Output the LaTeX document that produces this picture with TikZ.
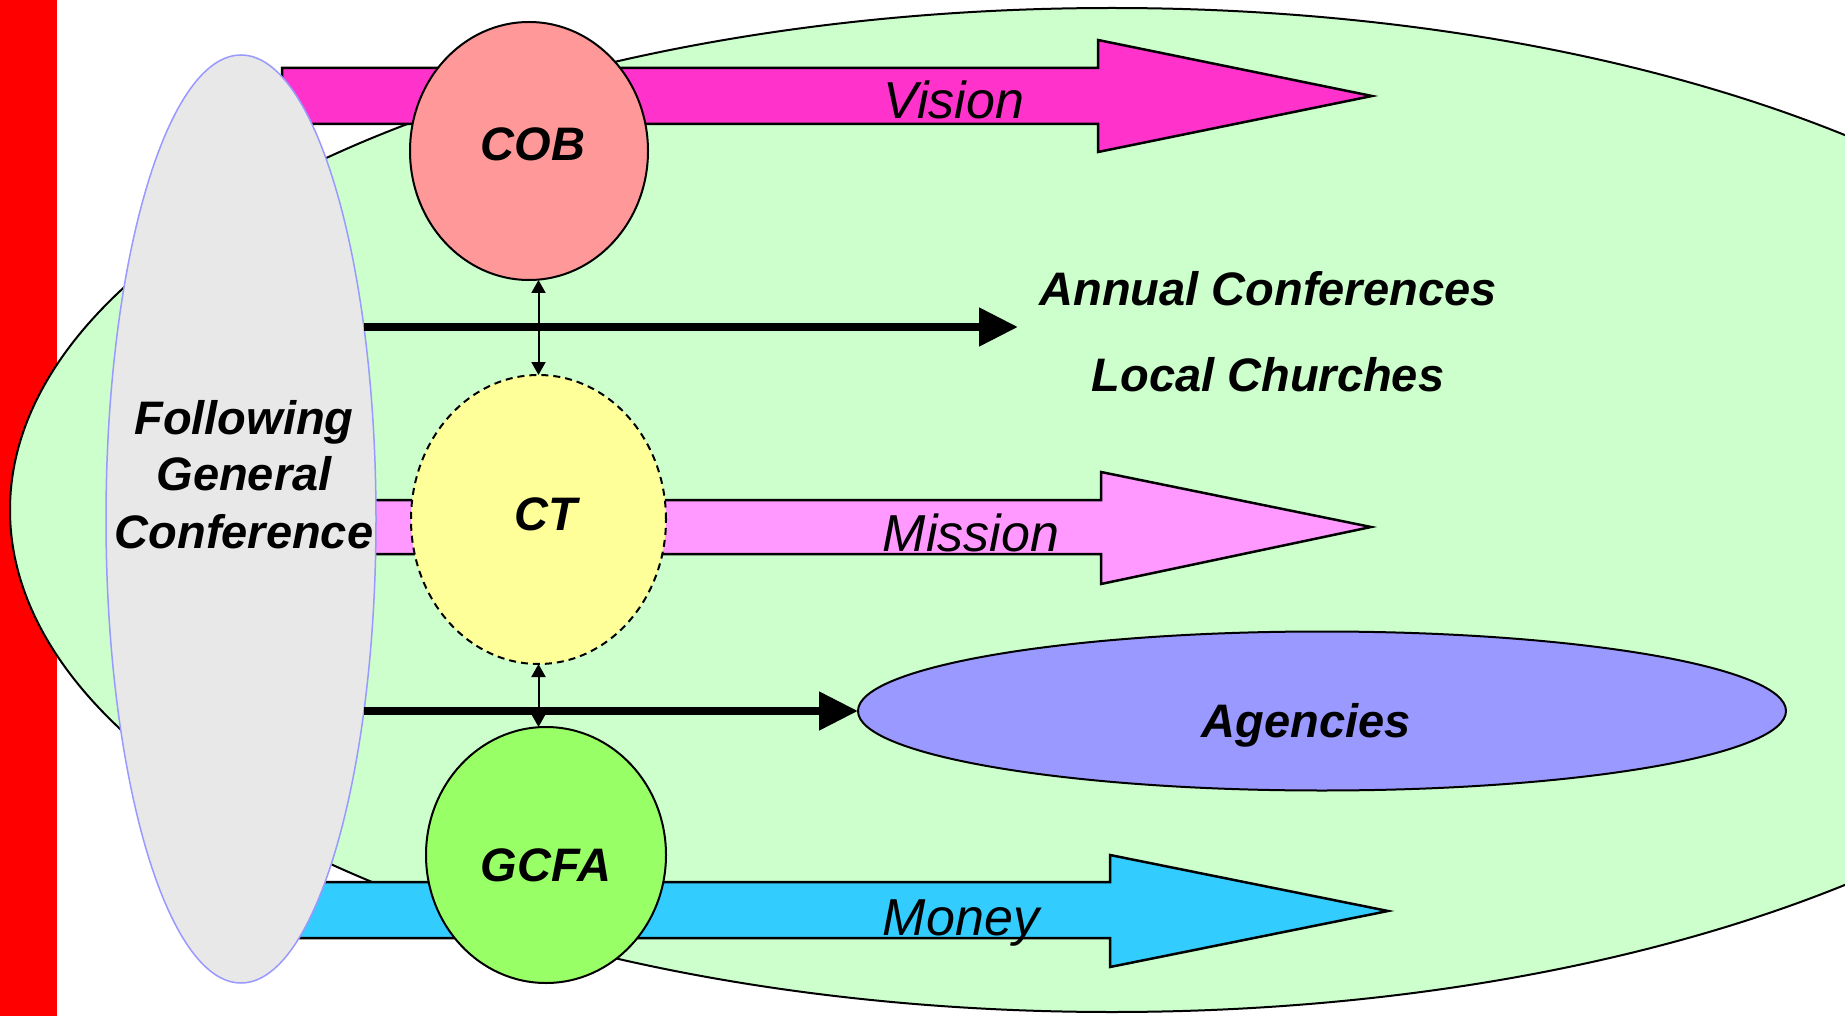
\documentclass[tikz,border=0pt]{standalone}
\usepackage{fontspec}
\setmainfont{Liberation Sans}
\usetikzlibrary{shapes.geometric,arrows.meta}
\definecolor{bgGreen}{HTML}{CCFFCC}
\definecolor{visCol}{HTML}{FF33CC}
\definecolor{misCol}{HTML}{FF99FF}
\definecolor{monCol}{HTML}{33CCFF}
\definecolor{cobCol}{HTML}{FF9999}
\definecolor{ctCol}{HTML}{FFFF99}
\definecolor{gcfaCol}{HTML}{99FF66}
\definecolor{agCol}{HTML}{9999FF}
\definecolor{fgcCol}{HTML}{E8E8E8}
\definecolor{fgcLine}{HTML}{9999FF}
\begin{document}
\begin{tikzpicture}[x=1pt,y=-1pt,
  blob/.style={ellipse, inner sep=0pt, outer sep=0pt, draw=black, line width=2pt},
  boldlbl/.style={font=\fontsize{47}{57}\selectfont\bfseries\itshape, inner sep=0pt, anchor=base},
  itlbl/.style={font=\fontsize{52}{62}\selectfont\itshape, inner sep=0pt, anchor=base},
  blockarrow/.style={draw=black, line width=2.5pt, line join=miter},
  thickarrow/.style={line width=8pt, -{Triangle[length=39pt,width=37pt]}},
  thinarrow/.style={line width=2pt, {Triangle[length=13pt,width=14pt]}-{Triangle[length=13pt,width=14pt]}}
]
\useasboundingbox (0,0) rectangle (1845,1016);
\clip (0,0) rectangle (1845,1016);
\fill[white] (0,0) rectangle (1845,1016);
% red bar
\fill[red] (0,0) rectangle (56.5,1016);
% big background ellipse
\node[blob, fill=bgGreen, minimum width=2204pt, minimum height=1004pt] (BG) at (1112,510) {};
% block arrows
\draw[blockarrow, fill=visCol] (282,68) -- (1098,68) -- (1098,40) -- (1372,96) -- (1098,152) -- (1098,124) -- (282,124) -- cycle;
\draw[blockarrow, fill=misCol] (330,500) -- (1101,500) -- (1101,472) -- (1371,527) -- (1101,584) -- (1101,554) -- (330,554) -- cycle;
\draw[blockarrow, fill=monCol] (280,882) -- (1110,882) -- (1110,855) -- (1388,911) -- (1110,967) -- (1110,938) -- (280,938) -- cycle;
% following general conference
\node[ellipse, inner sep=0pt, outer sep=0pt, draw=fgcLine, line width=1.5pt, fill=fgcCol, minimum width=270pt, minimum height=928pt] (FGC) at (241,519) {};
% agencies
\node[blob, fill=agCol, minimum width=928pt, minimum height=159pt] (AG) at (1322,711) {};
% circles
\node[blob, fill=cobCol, minimum width=238pt, minimum height=258pt] (COB) at (529,151) {};
\node[blob, fill=ctCol, dash pattern=on 7pt off 5pt, minimum width=255pt, minimum height=289pt] (CT) at (538.5,519.5) {};
\node[blob, fill=gcfaCol, minimum width=240pt, minimum height=256pt] (GCFA) at (546,855) {};
% connectors
\coordinate (acTip) at (1018,327);
\draw[thickarrow] (FGC.57.4 |- acTip) -- (acTip);
\draw[thickarrow] (FGC.-57.4 |- AG.west) -- (AG.west);
\draw[thinarrow] (CT.north) -- (CT.north |- COB.south);
\draw[thinarrow] (CT.south) -- (CT.south |- GCFA.north);
% labels
\node[boldlbl] (COBt) at (533,161) {COB};
\node[boldlbl] (CTt) at (546,530) {CT};
\node[boldlbl] (GCFAt) at (546,881) {GCFA};
\node[boldlbl] (AGt) at (1306,737) {Agencies};
\node[boldlbl] (ACt) at (1268,306) {Annual Conferences};
\node[boldlbl] (LCt) at (1268,391) {Local Churches};
\node[boldlbl] (FGCt1) at (244,434) {Following};
\node[boldlbl] (FGCt2) at (244,490) {General};
\node[boldlbl] (FGCt3) at (244,548) {Conference};
\node[itlbl] (VISt) at (954,119) {Vision};
\node[itlbl] (MISt) at (971,551) {Mission};
\node[itlbl] (MONt) at (961,935) {Money};
\end{tikzpicture}
\end{document}
